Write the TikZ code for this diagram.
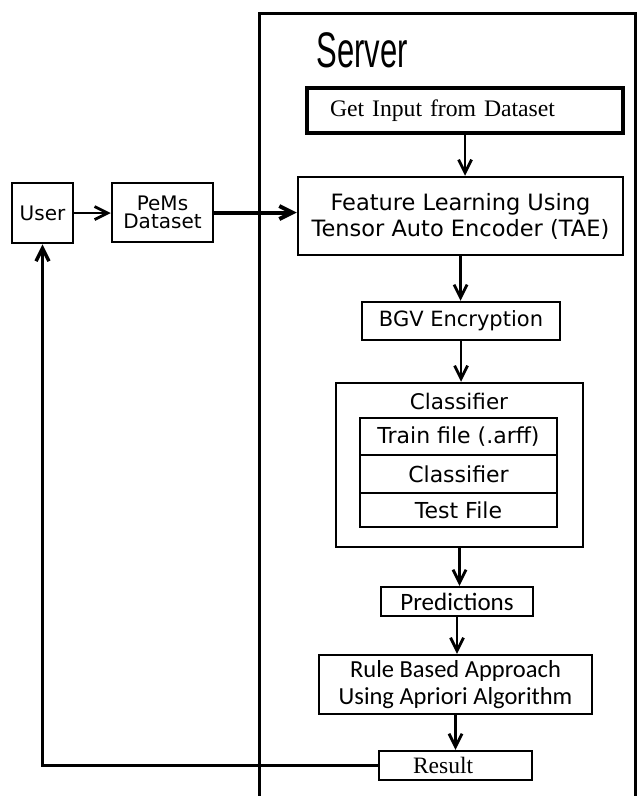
\documentclass[tikz,border=0pt]{standalone}
\usepackage{fontspec}
\setmainfont{DejaVu Sans}
\newfontfamily\calfont{Carlito}
\newfontfamily\tmsfont{Liberation Serif}
\newfontfamily\srvfont{Liberation Sans}
\usetikzlibrary{arrows.meta}

\tikzset{
  box/.style={draw, line width=2.5pt, inner sep=0pt, align=center, font=\fontsize{20}{25}\selectfont},
  flow/.style={line width=2.8pt, -{Straight Barb[length=13pt,width=13pt]}},
}

\begin{document}
\begin{tikzpicture}[x=1pt,y=-1pt]
		\useasboundingbox (0,0) rectangle (637,796);
		
		% server frame
		\coordinate (sa) at (259,796);
		\coordinate (sb) at (259,13);
		\coordinate (sc) at (635,13);
		\coordinate (sd) at (635,796);
		\draw[line width=3pt] (sa) -- (sb) -- (sc) -- (sd);
		\node (srv) at (362,50) {\srvfont\fontsize{50}{50}\selectfont\scalebox{0.62}[1]{Server}};
		
		\node[box, minimum width=61, minimum height=60] (user) at (42.5,213) {User};
		\node[box, minimum width=101, minimum height=59, font=\fontsize{20}{18.5}\selectfont] (pems) at (162.5,212.5) {PeMs\\Dataset};
		
		\node[box, line width=4.5pt, text width=270, inner xsep=23, minimum height=45, align=left, font=\tmsfont\fontsize{23.7}{25}\selectfont] (input) at (465,110.5) {Get Input from Dataset};
		\node[box, minimum width=325, minimum height=78, font=\fontsize{22.5}{26}\selectfont] (feature) at (460.5,216) {Feature Learning Using\\Tensor Auto Encoder (TAE)};
		\node[box, minimum width=198, minimum height=38, font=\fontsize{21}{24}\selectfont] (bgv) at (461,321) {BGV Encryption};
		
		% classifier block
		\node[box, minimum width=247, minimum height=164] (clsbox) at (459.5,465) {};
		\node[font=\fontsize{21.5}{24}\selectfont] (clstitle) at (459,401) {Classifier};
		\node[box, minimum width=197, minimum height=37, font=\fontsize{22}{24}\selectfont] (train) at (458.5,436.5) {Train file (.arff)};
		\node[box, minimum width=197, minimum height=38, font=\fontsize{22}{24}\selectfont] (clf) at (458.5,474) {Classifier};
		\node[box, minimum width=197, minimum height=34, font=\fontsize{22}{24}\selectfont] (test) at (458.5,510) {Test File};
		
		\node[box, minimum width=152, minimum height=29, font=\calfont\fontsize{25}{27}\selectfont] (pred) at (457,601.5) {Predictions};
		\node[box, minimum width=273, minimum height=59, font=\calfont\fontsize{24.5}{27}\selectfont] (rule) at (455.5,684.5) {Rule Based Approach\\Using Apriori Algorithm};
		\node[box, text width=85, inner xsep=34, minimum height=29, align=left, font=\tmsfont\fontsize{23.5}{25}\selectfont] (result) at (455.5,765.5) {Result};
		
		\draw[flow] (user.east) -- (user.east -| pems.west);
		\draw[flow, line width=4pt] (pems.east) -- (pems.east -| feature.west);
		\draw[flow] (input.south) -- (input.south |- feature.north);
		\draw[flow] (feature.south) -- (feature.south |- bgv.north);
		\draw[flow] (bgv.south) -- (bgv.south |- clsbox.north);
		\draw[flow] (clsbox.south) -- (clsbox.south |- pred.north);
		\draw[flow] (pred.south) -- (pred.south |- rule.north);
		\draw[flow] (rule.south) -- (rule.south |- result.north);
		\draw[flow, line width=3.5pt] (result.west) -| (user.south);
	\end{tikzpicture}
\end{document}
